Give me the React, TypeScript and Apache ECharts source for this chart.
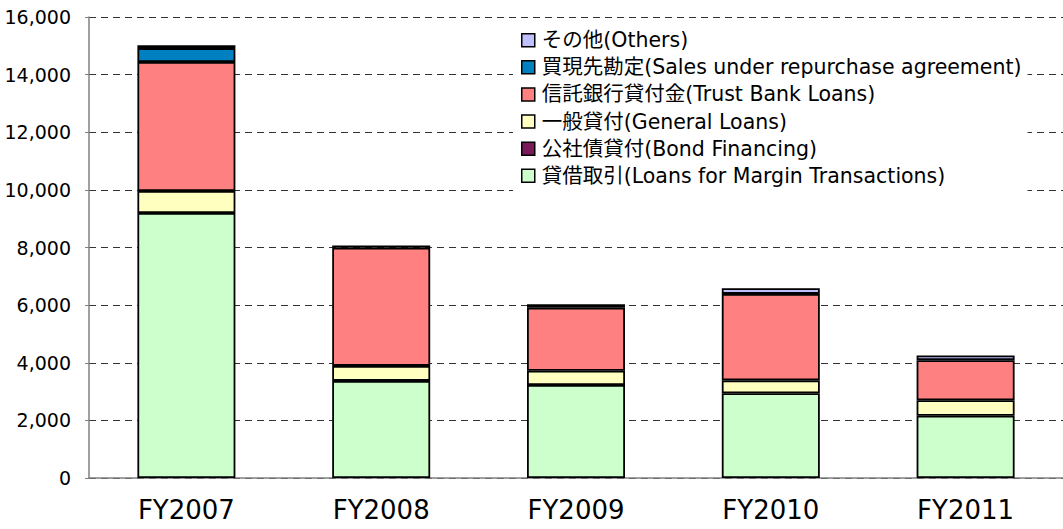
import React, { useEffect, useRef } from "react";
import * as echarts from "echarts";

const categories = ["FY2007", "FY2008", "FY2009", "FY2010", "FY2011"];
const marginLoans = [9200, 3370, 3230, 2940, 2160];
const bondFinancing = [0, 0, 0, 0, 0];
const generalLoans = [760, 520, 490, 450, 540];
const trustBankLoans = [4480, 4100, 2190, 3000, 1390];
const repoSales = [480, 0, 0, 0, 0];
const others = [100, 80, 120, 200, 160];
const yTicks = [0, 2000, 4000, 6000, 8000, 10000, 12000, 14000, 16000];

const seriesDefs = [
  { name: "貸借取引(Loans for Margin Transactions)", data: marginLoans, color: "#CCFFCC" },
  { name: "公社債貸付(Bond Financing)", data: bondFinancing, color: "#7A1A5A" },
  { name: "一般貸付(General Loans)", data: generalLoans, color: "#FFFFC0" },
  { name: "信託銀行貸付金(Trust Bank Loans)", data: trustBankLoans, color: "#FF8080" },
  { name: "買現先勘定(Sales under repurchase agreement)", data: repoSales, color: "#0080C0" },
  { name: "その他(Others)", data: others, color: "#C0C0FF" },
];

const FONT = "'DejaVu Sans', 'Noto Sans CJK JP', sans-serif";

export default function App() {
  const ref = useRef<HTMLDivElement>(null);
  useEffect(() => {
    if (!ref.current) return;
    const chart = echarts.init(ref.current, undefined, { renderer: "svg" });
    chart.setOption({
      animation: false,
      backgroundColor: "#ffffff",
      textStyle: { fontFamily: FONT, color: "#000" },
      grid: { left: 89, top: 17, width: 980, bottom: 51, containLabel: false },
      legend: {
        orient: "vertical",
        left: 513,
        top: 25,
        padding: [5, 6, 5, 8],
        backgroundColor: "#ffffff",
        itemWidth: 13,
        itemHeight: 13,
        itemGap: 6.6,
        icon: "rect",
        data: seriesDefs.map((s) => s.name).reverse(),
        textStyle: { fontFamily: FONT, fontSize: 20.5, color: "#000", padding: [0, 0, 0, 2] },
        itemStyle: { borderColor: "#000", borderWidth: 1.5 },
      },
      xAxis: {
        type: "category",
        data: categories,
        axisLine: { show: true, lineStyle: { color: "#808080", width: 1.5 } },
        axisTick: { show: false },
        axisLabel: { fontFamily: FONT, fontSize: 26, color: "#000", margin: 19 },
      },
      yAxis: {
        type: "value",
        min: 0,
        max: 16000,
        interval: 2000,
        axisLine: { show: true, lineStyle: { color: "#808080", width: 1.5 } },
        axisTick: { show: true, inside: false, length: 4, lineStyle: { color: "#808080" } },
        axisLabel: {
          fontFamily: FONT,
          fontSize: 19,
          color: "#000",
          margin: 18,
          formatter: (v: number) => (yTicks.includes(v) ? v.toLocaleString("en-US") : ""),
        },
        splitLine: { show: true, lineStyle: { color: "#333", type: [7, 5], width: 1 } },
      },
      series: seriesDefs.map((s) => ({
        name: s.name,
        type: "bar",
        stack: "total",
        data: s.data.map((v) => (v === 0 ? "-" : v)),
        barWidth: 98,
        itemStyle: { color: s.color, borderColor: "#000", borderWidth: 1.8 },
      })),
    });
    return () => chart.dispose();
  }, []);
  return (
    <div
      ref={ref}
      style={{ position: "fixed", left: 0, top: 0, width: 1063, height: 529 }}
    />
  );
}
